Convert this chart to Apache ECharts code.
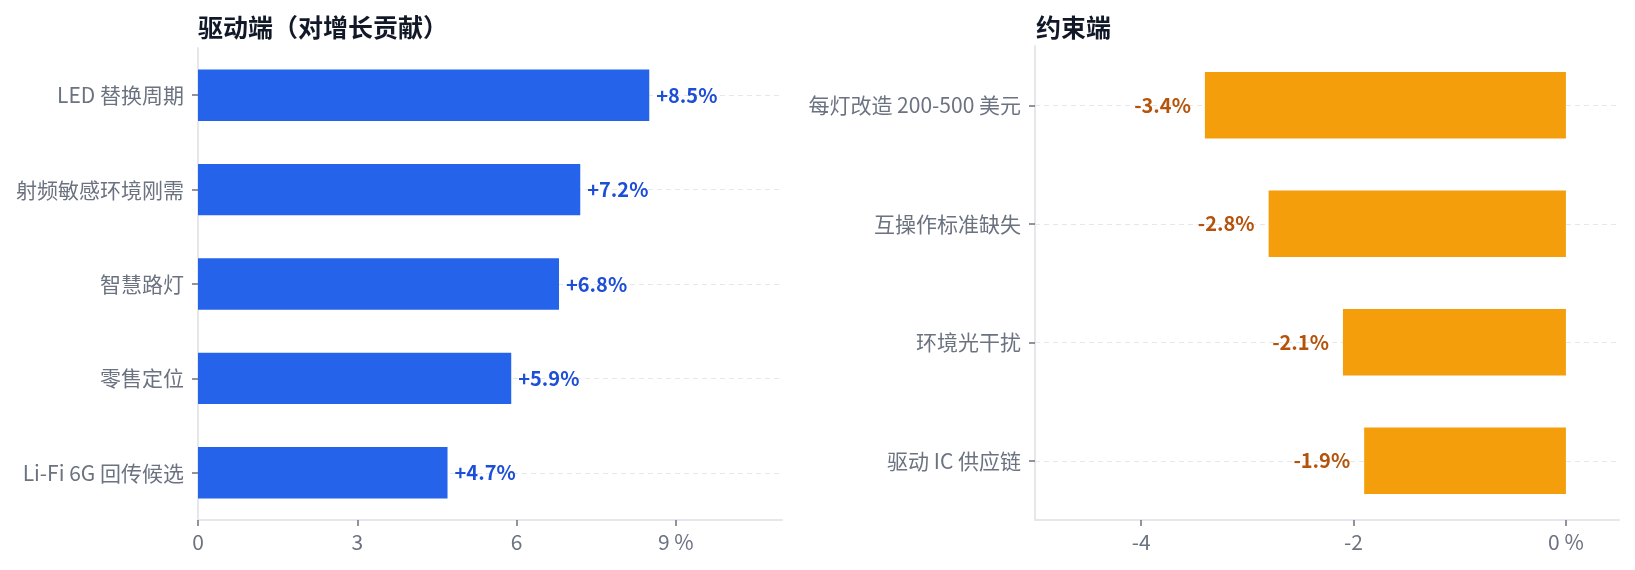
<!DOCTYPE html>
<html>
<head>
<meta charset="utf-8">
<script src="https://cdn.jsdelivr.net/npm/echarts@6/dist/echarts.min.js"></script>
<style>
html,body{margin:0;padding:0;background:#fff;}
#c{width:1635px;height:570px;}
</style>
</head>
<body>
<div id="c"></div>
<script>
const driverCats = ['LED 替换周期','射频敏感环境刚需','智慧路灯','零售定位','Li-Fi 6G 回传候选'];
const driverVals = [8.5, 7.2, 6.8, 5.9, 4.7];
const constraintCats = ['每灯改造 200-500 美元','互操作标准缺失','环境光干扰','驱动 IC 供应链'];
const constraintVals = [-3.4, -2.8, -2.1, -1.9];
const driverTicks = [0, 3, 6, 9];
const constraintTicks = [-4, -2, 0];
const titles = ['驱动端（对增长贡献）', '约束端'];

const FONT = '"Noto Sans CJK SC", "Noto Sans", sans-serif';
const gray = '#6b7280';

function xAxis(idx, min, max, ticks, unitAt) {
  return {
    type: 'value', gridIndex: idx, min: min, max: max,
    axisLine: {show: true, onZero: false, lineStyle: {color: '#e5e7eb', width: 2}},
    axisTick: {show: true, customValues: ticks, length: 6, lineStyle: {color: gray, width: 1.5}},
    axisLabel: {customValues: ticks, color: gray, fontSize: 21, fontFamily: FONT, margin: 12,
      formatter: v => (v === unitAt ? v + ' %' : String(v))},
    splitLine: {show: false}
  };
}
function yAxis(idx, cats) {
  return {
    type: 'category', gridIndex: idx, data: cats, inverse: true,
    axisLine: {show: true, onZero: false, lineStyle: {color: '#e5e7eb', width: 2}},
    axisTick: {show: true, alignWithLabel: true, length: 6, lineStyle: {color: gray, width: 1.5}},
    axisLabel: {color: gray, fontSize: 21, fontFamily: FONT, margin: 14},
    splitLine: {show: true, alignWithLabel: true, lineStyle: {color: '#e5e7eb', type: [5, 4], width: 1}}
  };
}

const chart = echarts.init(document.getElementById('c'), null, {renderer: 'canvas'});
chart.setOption({
  backgroundColor: '#fff',
  animation: false,
  title: [
    {text: titles[0], left: 193, top: 10, textStyle: {fontSize: 25, fontWeight: 'bold', color: '#111827', fontFamily: FONT}},
    {text: titles[1], left: 1031, top: 10, textStyle: {fontSize: 25, fontWeight: 'bold', color: '#111827', fontFamily: FONT}}
  ],
  grid: [
    {left: 198, top: 48, width: 584, height: 472},
    {left: 1035, top: 46, width: 584, height: 474}
  ],
  xAxis: [
    xAxis(0, 0, 11, driverTicks, 9),
    xAxis(1, -5, 0.5, constraintTicks, 0)
  ],
  yAxis: [
    yAxis(0, driverCats),
    yAxis(1, constraintCats)
  ],
  series: [
    {
      type: 'bar', xAxisIndex: 0, yAxisIndex: 0, data: driverVals,
      barCategoryGap: '45.5%',
      itemStyle: {color: '#2563eb'},
      label: {show: true, position: 'right', distance: 7, color: '#1d4ed8', fontWeight: 'bold',
        fontSize: 20, fontFamily: FONT, formatter: p => '+' + p.value.toFixed(1) + '%'}
    },
    {
      type: 'bar', xAxisIndex: 1, yAxisIndex: 1, data: constraintVals,
      barCategoryGap: '44%',
      itemStyle: {color: '#f59e0b'},
      label: {show: true, position: 'left', distance: 14, color: '#b45309', fontWeight: 'bold',
        fontSize: 20, fontFamily: FONT, formatter: p => p.value.toFixed(1) + '%'}
    }
  ]
});
</script>
</body>
</html>
